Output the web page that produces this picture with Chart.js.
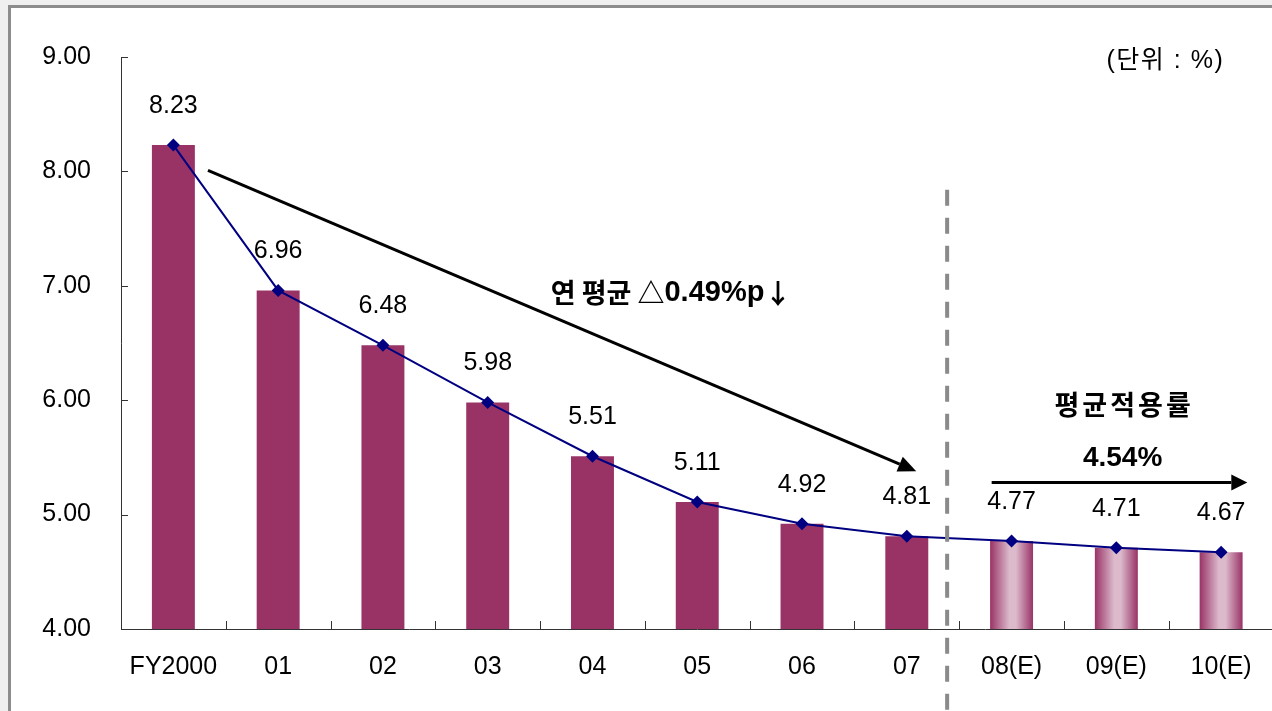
<!DOCTYPE html>
<html>
<head>
<meta charset="utf-8">
<script src="https://cdn.jsdelivr.net/npm/chart.js@4/dist/chart.umd.min.js"></script>
<style>
  html, body { margin: 0; padding: 0; width: 1272px; height: 711px; overflow: hidden; background: #efefef; }
  #frame { position: absolute; left: 8px; top: 5px; width: 1300px; height: 760px; border: 3px solid #8c8c8c; background: #ffffff; }
  #wrap { position: absolute; left: 0; top: 0; width: 1280px; height: 711px; }
</style>
</head>
<body>
<div id="frame"></div>
<div id="wrap"><canvas id="c" width="1280" height="711"></canvas></div>
<script>
// ---- data ----
const categories = ['FY2000', '01', '02', '03', '04', '05', '06', '07', '08(E)', '09(E)', '10(E)'];
const rates = [8.23, 6.96, 6.48, 5.98, 5.51, 5.11, 4.92, 4.81, 4.77, 4.71, 4.67];
const yTicks = [4, 5, 6, 7, 8, 9];
const estimateStart = 8; // first estimated year index
const unitLabel = '(단위 : %)';
const trendParts = ['연 평균 △', '0.49%p', '↓'];
const avgTitle = '평균적용률';
const avgValue = '4.54%';

const BAR = '#993366';
const LIGHT = '#dcbacc';
const FONT = '"Liberation Sans", Arial, "Noto Sans CJK KR", sans-serif';
const MIXFONT = '"Liberation Sans", "Noto Sans CJK KR", sans-serif';
const KFONT = '"Noto Sans CJK KR", "Liberation Sans", sans-serif';

function barColor(ctx) {
  const chart = ctx.chart;
  if (ctx.dataIndex < estimateStart || !chart.chartArea || !chart.scales.x) return BAR;
  const xs = chart.scales.x;
  const c = xs.getPixelForValue(ctx.dataIndex);
  const w = (xs.getPixelForValue(1) - xs.getPixelForValue(0)) * 0.41;
  const g = chart.ctx.createLinearGradient(c - w / 2, 0, c + w / 2, 0);
  g.addColorStop(0, BAR);
  g.addColorStop(0.45, LIGHT);
  g.addColorStop(0.6, LIGHT);
  g.addColorStop(1, BAR);
  return g;
}

function arrow(ctx, x1, y1, x2, y2, head, hw) {
  const a = Math.atan2(y2 - y1, x2 - x1);
  const bx = x2 - head * Math.cos(a), by = y2 - head * Math.sin(a);
  ctx.beginPath();
  ctx.moveTo(x1, y1);
  ctx.lineTo(bx, by);
  ctx.stroke();
  ctx.beginPath();
  ctx.moveTo(x2, y2);
  ctx.lineTo(bx + hw * Math.sin(a), by - hw * Math.cos(a));
  ctx.lineTo(bx - hw * Math.sin(a), by + hw * Math.cos(a));
  ctx.closePath();
  ctx.fill();
}

function runs(ctx, parts, cx, y) {
  let total = 0;
  parts.forEach(p => { ctx.font = p.font; p.w = ctx.measureText(p.t).width; total += p.w; });
  let x = cx - total / 2;
  ctx.textAlign = 'left';
  parts.forEach(p => { ctx.font = p.font; ctx.fillText(p.t, x, y + (p.dy || 0)); x += p.w; });
  ctx.textAlign = 'center';
}

const decor = {
  id: 'decor',
  afterDatasetsDraw(chart) {
    const ctx = chart.ctx;
    const xs = chart.scales.x, ys = chart.scales.y;
    const ca = chart.chartArea;
    const P = (i, v) => [xs.getPixelForValue(i), ys.getPixelForValue(v)];
    ctx.save();
    // axes lines
    ctx.strokeStyle = '#333';
    ctx.lineWidth = 1;
    ctx.beginPath();
    ctx.moveTo(ca.left + 0.5, ca.top);
    ctx.lineTo(ca.left + 0.5, ca.bottom + 0.5);
    ctx.lineTo(ca.right, ca.bottom + 0.5);
    ctx.stroke();
    // inward ticks
    ctx.beginPath();
    yTicks.forEach(v => {
      const y = Math.round(ys.getPixelForValue(v)) + 0.5;
      ctx.moveTo(ca.left, y); ctx.lineTo(ca.left + 7, y);
    });
    for (let k = 1; k <= categories.length; k++) {
      const x = Math.round(xs.getPixelForValue(k - 0.5)) + 0.5;
      ctx.moveTo(x, ca.bottom); ctx.lineTo(x, ca.bottom - 8);
    }
    ctx.stroke();

    // dashed divider
    ctx.strokeStyle = '#8a8a8a';
    ctx.lineWidth = 4;
    ctx.setLineDash([16, 12]);
    const [dx, dy] = P(7.385, 7.84);
    ctx.beginPath();
    ctx.moveTo(dx, dy);
    ctx.lineTo(dx, chart.height);
    ctx.stroke();
    ctx.setLineDash([]);

    // trend arrow
    ctx.strokeStyle = '#000';
    ctx.fillStyle = '#000';
    ctx.lineWidth = 3;
    const a1 = P(0.33, 8.01), a2 = P(7.09, 5.38);
    arrow(ctx, a1[0], a1[1], a2[0], a2[1], 18, 8);
    // average arrow
    const b1 = P(7.81, 5.28), b2 = P(10.25, 5.28);
    arrow(ctx, b1[0], b1[1], b2[0], b2[1], 16, 8);

    // data labels
    const meta = chart.getDatasetMeta(1);
    ctx.font = '25px ' + FONT;
    ctx.fillStyle = '#000';
    ctx.textAlign = 'center';
    ctx.textBaseline = 'middle';
    meta.data.forEach((pt, i) => {
      ctx.fillText(rates[i].toFixed(2), pt.x, pt.y - 39);
    });

    // texts
    const t1 = P(4.75, 6.94);
    runs(ctx, [
      { t: trendParts[0], font: 'bold 27px ' + KFONT },
      { t: trendParts[1], font: 'bold 29px ' + FONT },
      { t: trendParts[2], font: 'bold 27px "Noto Sans CJK KR", sans-serif', dy: 1 }
    ], t1[0], t1[1]);

    ctx.font = 'bold 27px ' + KFONT;
    const t2 = P(9.06, 5.96);
    ctx.letterSpacing = '3px';
    ctx.fillText(avgTitle, t2[0] + 1.5, t2[1]);
    ctx.letterSpacing = '0px';
    ctx.font = 'bold 28px ' + FONT;
    const t3 = P(9.06, 5.495);
    ctx.fillText(avgValue, t3[0], t3[1]);
    ctx.font = '25px ' + MIXFONT;
    ctx.textAlign = 'right';
    const t4 = P(10.03, 8.96);
    ctx.letterSpacing = '1.5px';
    ctx.fillText(unitLabel, t4[0], t4[1]);
    ctx.letterSpacing = '0px';
    ctx.restore();
  }
};

new Chart(document.getElementById('c'), {
  data: {
    labels: categories,
    datasets: [
      {
        type: 'bar',
        data: rates,
        backgroundColor: barColor,
        borderWidth: 0,
        barPercentage: 0.41,
        categoryPercentage: 1.0,
        order: 1
      },
      {
        type: 'line',
        data: rates,
        borderColor: '#000080',
        borderWidth: 2,
        tension: 0,
        pointStyle: 'rectRot',
        pointRadius: 6.5,
        pointHoverRadius: 6.5,
        pointBackgroundColor: '#000080',
        pointBorderColor: '#000080',
        pointBorderWidth: 0,
        order: 0
      }
    ]
  },
  options: {
    responsive: false,
    animation: false,
    events: [],
    layout: { padding: { left: 0, right: 5, top: 57, bottom: 0 } },
    plugins: { legend: { display: false }, tooltip: { enabled: false } },
    scales: {
      x: {
        type: 'category',
        offset: true,
        grid: { display: false, drawTicks: false },
        border: { display: false },
        ticks: { color: '#000', font: { family: FONT, size: 25 }, padding: 23, maxRotation: 0, autoSkip: false },
        afterFit(s) { s.height = 82; }
      },
      y: {
        min: 4, max: 9,
        grid: { display: false, drawTicks: false },
        border: { display: false },
        ticks: {
          stepSize: 1,
          color: '#000',
          font: { family: FONT, size: 25 },
          padding: 30,
          callback: v => Number(v).toFixed(2)
        },
        afterFit(s) { s.width = 121; }
      }
    }
  },
  plugins: [decor]
});
</script>
</body>
</html>
